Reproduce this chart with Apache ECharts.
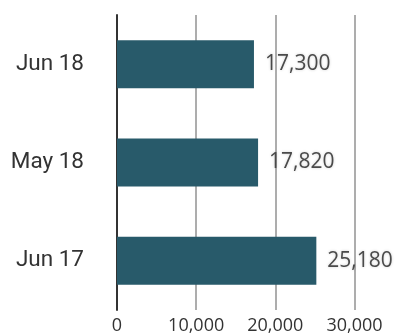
<!DOCTYPE html>
<html>
<head>
<meta charset="utf-8">
<script src="https://cdn.jsdelivr.net/npm/echarts@6/dist/echarts.min.js"></script>
<style>
  html, body { margin: 0; padding: 0; background: #fff; }
  #chart { width: 395px; height: 335px; }
</style>
</head>
<body>
<div id="chart"></div>
<script>
// Monthly totals, listed bottom-to-top as drawn on the category axis
const categories = ['Jun 17', 'May 18', 'Jun 18'];
const values = [25180, 17820, 17300];
const axisMax = 30000;
const axisStep = 10000;

const chart = echarts.init(document.getElementById('chart'));
chart.setOption({
  animation: false,
  grid: { left: 117, right: 40.5, top: 15, bottom: 24, containLabel: false },
  xAxis: {
    type: 'value',
    min: 0,
    max: axisMax,
    interval: axisStep,
    axisLine: { show: false },
    axisTick: { show: false },
    axisLabel: {
      margin: 7,
      color: '#333',
      fontFamily: 'Open Sans',
      fontSize: 18,
      formatter: v => v.toLocaleString('en-US')
    },
    splitLine: { show: true, lineStyle: { color: '#adadad', width: 2 } }
  },
  yAxis: {
    type: 'category',
    data: categories,
    axisLine: { show: true, lineStyle: { color: '#333', width: 2 } },
    axisTick: { show: false },
    axisLabel: {
      margin: 33,
      color: '#333',
      fontFamily: 'Roboto',
      fontSize: 22.5
    }
  },
  series: [{
    type: 'bar',
    data: values,
    barWidth: 48,
    itemStyle: { color: '#285a6a' },
    label: {
      show: true,
      position: 'right',
      distance: 11,
      color: '#4a4a4a',
      fontFamily: 'Open Sans',
      fontSize: 21,
      textShadowColor: 'rgba(0,0,0,0.2)',
      textShadowBlur: 3,
      formatter: p => p.value.toLocaleString('en-US')
    }
  }]
});
</script>
</body>
</html>
